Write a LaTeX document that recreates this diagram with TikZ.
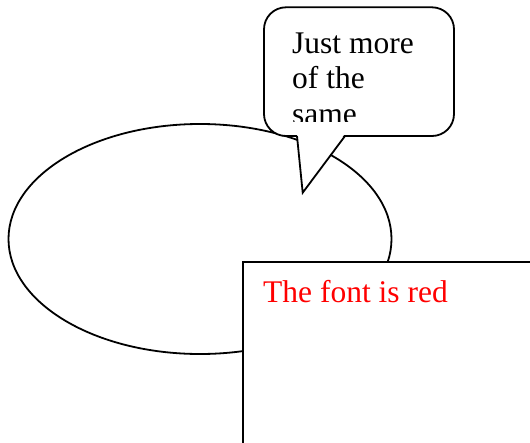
\documentclass[tikz,border=0pt]{standalone}
\usepackage{fontspec}
\setmainfont{Liberation Serif}
\usetikzlibrary{positioning,shapes.geometric}
\tikzset{%
	blob/.style    = {draw, ellipse, line width=1.8pt, minimum width=383pt, minimum height=230pt, inner sep=0pt, outer sep=0pt},
	bubble/.style  = {draw, rectangle, rounded corners=22pt, line width=1.8pt, fill=white, minimum width=190pt, minimum height=128.7pt, outer sep=0pt},
	panel/.style   = {draw, rectangle, line width=1.8pt, fill=white, minimum width=320pt, minimum height=220pt, outer sep=0pt},
	bigtext/.style = {font=\fontsize{31.5}{35.5}\selectfont, align=left, inner sep=0pt},
}
\begin{document}
\begin{tikzpicture}[x=1pt,y=-1pt]
	\clip (0,0) rectangle (530,442);
	\node[blob] (blob) at (200,239) {};  % ellipse
	\node[bubble, anchor=north west] (note) at (264,7.3) {};  % callout box
	\coordinate (tip) at (302.7,192.7);
	\fill[white] ([xshift=33pt,yshift=2.5pt]note.south west) -- (tip) -- ([xshift=81pt,yshift=2.5pt]note.south west) -- cycle;
	\draw[line width=1.8pt] ([xshift=33pt]note.south west) -- (tip) -- ([xshift=81pt]note.south west);
	\begin{scope}
		\clip (note.north west) rectangle ([yshift=14.3pt]note.south east);
		\node[bigtext, anchor=base west] (words) at (292,124.3) {Just more\\of the\\same};  % base = last line
	\end{scope}
	\node[panel, anchor=north west] (box) at (243,261.7) {};  % text box
	\node[bigtext, text=red, anchor=base west] (label) at (263,302) {The font is red};
\end{tikzpicture}
\end{document}
